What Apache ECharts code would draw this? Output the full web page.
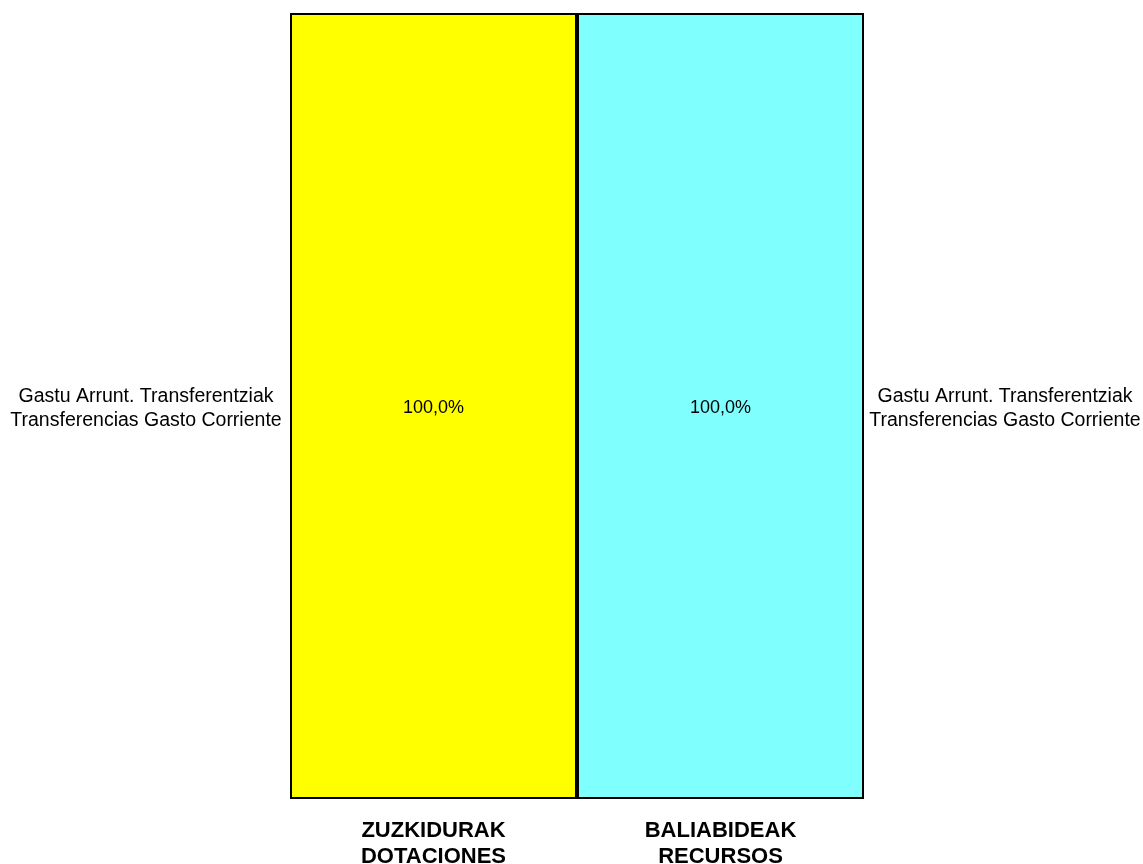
<!DOCTYPE html>
<html>
<head>
<meta charset="utf-8">
<script src="https://cdn.jsdelivr.net/npm/echarts@6/dist/echarts.min.js"></script>
<style>html,body{margin:0;padding:0;background:#fff;}#c{width:1143px;height:864px;}</style>
</head>
<body>
<div id="c"></div>
<script>
const categories = ['ZUZKIDURAK\nDOTACIONES', 'BALIABIDEAK\nRECURSOS'];
const segmentNameLines = ['Gastu Arrunt. Transferentziak', 'Transferencias Gasto Corriente'];
const shareValues = [100, 100];
const shareLabels = ['100,0%', '100,0%'];
const barColors = ['#FFFF00', '#80FFFF'];

const chart = echarts.init(document.getElementById('c'), null, {renderer: 'canvas'});
const font = '"Liberation Sans", Arial, sans-serif';
chart.setOption({
  animation: false,
  backgroundColor: '#ffffff',
  grid: {left: 290, right: 279, top: 13, bottom: 65, outerBoundsMode: 'none', containLabel: false},
  xAxis: {
    type: 'category',
    data: categories,
    axisLine: {show: false},
    axisTick: {show: false},
    axisLabel: {fontFamily: font, fontWeight: 'bold', fontSize: 22, color: '#000', lineHeight: 26, margin: 19}
  },
  yAxis: {type: 'value', min: 0, max: 100, show: false},
  series: [
    {
      type: 'bar',
      barCategoryGap: '0%',
      barGap: '-100%',
      data: shareValues.map((v, i) => ({
        value: v,
        itemStyle: {color: barColors[i], borderColor: '#000', borderWidth: 2}
      })),
      label: {
        show: true, position: 'inside', color: '#000', fontFamily: font, fontSize: 18, offset: [0, 2],
        formatter: p => shareLabels[p.dataIndex]
      }
    },
    {
      type: 'bar',
      barCategoryGap: '0%',
      barGap: '-100%',
      silent: true,
      data: shareValues.map((v, i) => ({
        value: v,
        itemStyle: {color: 'rgba(0,0,0,0)'},
        label: {position: i === 0 ? 'left' : 'right', distance: i === 0 ? 4 : 1, align: i === 0 ? 'right' : 'left'}
      })),
      label: {
        show: true, color: '#000', fontFamily: font, fontSize: 19.5, lineHeight: 24, offset: [0, 3],
        formatter: () => segmentNameLines.map(s => '{t|' + s + '}').join('\n'),
        rich: {t: {width: 280, align: 'center', fontFamily: font, fontSize: 19.5, lineHeight: 24, color: '#000'}}
      }
    }
  ]
});
</script>
</body>
</html>
